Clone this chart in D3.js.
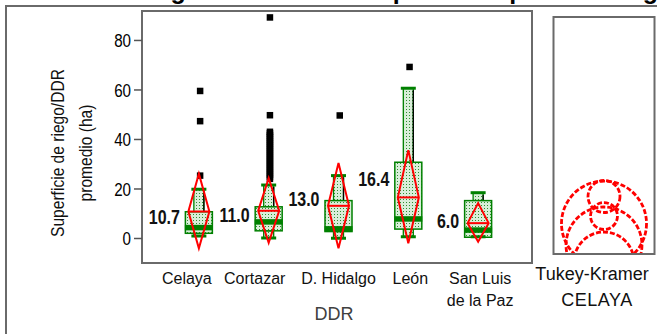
<!DOCTYPE html>
<html><head><meta charset="utf-8">
<script src="https://cdn.jsdelivr.net/npm/d3@7"></script>
<style>body{margin:0;background:#fff}svg{display:block}</style>
</head><body>
<svg id="c" width="657" height="334"></svg>
<script>
// ---------------- data ----------------
const categories = ["Celaya", "Cortazar", "D. Hidalgo", "León", "San Luis de la Paz"];
const means = [10.7, 11.0, 13.0, 16.4, 6.0];
const diamondTop = [26.0, 24.2, 30.3, 35.5, 14.1];
const diamondBottom = [-4.2, -1.9, -4.1, -2.1, -1.5];
const whiskerLow = [0.8, 0.0, -0.1, 0.5, 0.5];
const whiskerHigh = [19.7, 21.4, 25.2, 60.5, 18.3];
const q1 = [1.9, 2.9, 2.6, 3.6, 0.3];
const q3 = [10.6, 12.6, 15.1, 30.6, 15.1];
const medians = [4.2, 6.5, 3.7, 7.7, 3.2];
const outliers = [
  [25.3, 47.3, 59.5],
  [24.0, 24.8, 25.6, 26.4, 27.2, 28.0, 28.8, 29.6, 30.4, 31.2, 32.0, 32.8, 33.6, 34.4,
   35.2, 36.0, 36.8, 37.6, 38.4, 39.2, 40.0, 40.8, 41.6, 42.4, 43.0, 49.7, 89.2],
  [49.6],
  [69.2],
  []
];
const meanLabelAt = [8.5, 9.1, 15.6, 23.8, 6.9];
const yTicks = [0, 20, 40, 60, 80];
// comparison circles (centre and radius in the circle panel's own units)
const circleCenters = [16.4, 13.3, 12.1, 8.7, 6.0];
const circleRadii = [2.54, 2.14, 6.75, 6.03, 4.76];
const titleText = "Área media de riego en los distritos por DDR: prueba del grupo";
const yTitle = ["Superficie de riego/DDR", "promedio (ha)"];
const xTitle = "DDR";
const panelLabels = ["Tukey-Kramer", "CELAYA"];

// ---------------- layout ----------------
const SANS = "'Liberation Sans',Arial,sans-serif";
const NX = 0.82; // horizontal squeeze to imitate a narrow face
const FRAME = "#6a6a6a";
const GREEN = "#008000";
const labelNudge = [-12, -14, 0, 2, 2];

const svg = d3.select("#c");
const defs = svg.append("defs");
const pat = defs.append("pattern").attr("id", "dots").attr("width", 3).attr("height", 3)
  .attr("patternUnits", "userSpaceOnUse");
pat.append("rect").attr("width", 3).attr("height", 3).attr("fill", "#d9eed9");
pat.append("rect").attr("x", 1).attr("y", 1).attr("width", 1).attr("height", 1).attr("fill", "#2f8f2f");

function narrowText(parent, tx, ty, txt, size, anchor, weight) {
  return parent.append("text")
    .attr("transform", `translate(${tx},${ty}) scale(${NX},1)`)
    .attr("text-anchor", anchor).attr("font-family", SANS)
    .attr("font-weight", weight || "normal").attr("font-size", size)
    .attr("fill", "#111").text(txt);
}

// title (cut off at the top edge; only descenders show)
svg.append("text").attr("x", -38).attr("y", -1)
  .attr("font-family", SANS).attr("font-weight", "bold").attr("font-size", 25)
  .text(titleText);

// outer frame lines
svg.append("line").attr("x1", 5).attr("x2", 657).attr("y1", 6).attr("y2", 6)
  .attr("stroke", FRAME).attr("stroke-width", 2);
svg.append("line").attr("x1", 6).attr("x2", 6).attr("y1", 5).attr("y2", 334)
  .attr("stroke", FRAME).attr("stroke-width", 2);

// scales
const x = d3.scalePoint().domain(categories).range([144, 533]).padding(0.786);
const y = d3.scaleLinear().domain([-10.1, 91.7]).range([263, 11]);

// plot frame
svg.append("rect").attr("x", 142).attr("y", 11).attr("width", 390).attr("height", 252)
  .attr("fill", "none").attr("stroke", FRAME).attr("stroke-width", 2);

// y axis
const yAxis = svg.append("g").attr("transform", "translate(142,0)")
  .call(d3.axisLeft(y).tickValues(yTicks).tickSize(8).tickPadding(3).tickFormat(d3.format("d")));
yAxis.select(".domain").remove();
yAxis.selectAll(".tick line").attr("stroke", "#555").attr("stroke-width", 1.5);
yAxis.selectAll(".tick text").attr("font-family", SANS).attr("font-size", 18.5)
  .attr("fill", "#000").attr("dy", "0.36em")
  .attr("x", -11 / NX).attr("transform", `scale(${NX},1)`);

// y title
const yt = svg.append("text").attr("transform", `translate(70,153) rotate(-90) scale(${NX},1)`)
  .attr("text-anchor", "middle").attr("font-family", SANS).attr("font-size", 19).attr("fill", "#111");
yt.selectAll("tspan").data(yTitle).join("tspan")
  .attr("x", 0).attr("dy", (d, i) => i === 0 ? "-0.3em" : "1.45em").text(d => d);

// boxes
const g = svg.append("g");
categories.forEach((c, i) => {
  const cx = x(c);
  const wide = 27, narrow = 10, cap = 15;
  g.append("rect").attr("x", cx - narrow / 2).attr("y", y(whiskerHigh[i]))
    .attr("width", narrow).attr("height", y(q3[i]) - y(whiskerHigh[i]))
    .attr("fill", "url(#dots)").attr("stroke", GREEN).attr("stroke-width", 1.3);
  g.append("line").attr("x1", cx + narrow / 2).attr("x2", cx + narrow / 2)
    .attr("y1", y(whiskerHigh[i]) + 2).attr("y2", y(q3[i]))
    .attr("stroke", "#000").attr("stroke-width", 1.3);
  g.append("rect").attr("x", cx - narrow / 2).attr("y", y(q1[i]))
    .attr("width", narrow).attr("height", Math.max(0, y(whiskerLow[i]) - y(q1[i])))
    .attr("fill", "url(#dots)").attr("stroke", GREEN).attr("stroke-width", 1.3);
  g.append("rect").attr("x", cx - wide / 2).attr("y", y(q3[i]))
    .attr("width", wide).attr("height", y(q1[i]) - y(q3[i]))
    .attr("fill", "url(#dots)").attr("stroke", GREEN).attr("stroke-width", 1.5);
  [whiskerHigh[i], whiskerLow[i]].forEach(v => {
    g.append("line").attr("x1", cx - cap / 2).attr("x2", cx + cap / 2)
      .attr("y1", y(v)).attr("y2", y(v)).attr("stroke", GREEN).attr("stroke-width", 3);
  });
  g.append("line").attr("x1", cx - wide / 2 - 0.5).attr("x2", cx + wide / 2 + 0.5)
    .attr("y1", y(medians[i])).attr("y2", y(medians[i]))
    .attr("stroke", GREEN).attr("stroke-width", 5.5);
  g.selectAll(null).data(outliers[i]).join("rect")
    .attr("x", cx - 2).attr("y", d => y(d) - 3).attr("width", 6.5).attr("height", 6.5)
    .attr("fill", "#000");
  const hw = 10.5;
  const pts = [[cx, y(diamondTop[i])], [cx + hw, y(means[i])], [cx, y(diamondBottom[i])], [cx - hw, y(means[i])]];
  g.append("polygon").attr("points", pts.map(p => p.join(",")).join(" "))
    .attr("fill", "none").attr("stroke", "#ff0000").attr("stroke-width", 2);
  g.append("line").attr("x1", cx - hw).attr("x2", cx + hw)
    .attr("y1", y(means[i])).attr("y2", y(means[i]))
    .attr("stroke", "#ff0000").attr("stroke-width", 2);
  narrowText(g, cx - 19, y(meanLabelAt[i]) + 7, d3.format(".1f")(means[i]), 19.5, "end", "bold");
});

// x labels
categories.forEach((c, i) => {
  const lines = c === "San Luis de la Paz" ? ["San Luis", "de la Paz"] : [c];
  const t = svg.append("text").attr("y", 284)
    .attr("text-anchor", "middle").attr("font-family", SANS).attr("font-size", 16).attr("fill", "#111");
  t.selectAll("tspan").data(lines).join("tspan")
    .attr("x", x(c) + labelNudge[i]).attr("dy", (d, k) => k === 0 ? 0 : 21.5).text(d => d);
});
svg.append("text").attr("x", 334).attr("y", 320).attr("text-anchor", "middle")
  .attr("font-family", SANS).attr("font-size", 18).attr("fill", "#404040").text(xTitle);

// comparison-circle panel
const px0 = 553.5, py0 = 17, pw = 101, ph = 237;
defs.append("clipPath").attr("id", "pclip").append("rect")
  .attr("x", px0).attr("y", py0).attr("width", pw).attr("height", ph);
const cy = d3.scaleLinear().domain([6.0, 16.4]).range([262, 196.5]);
const pcx = px0 + pw / 2;
svg.append("g").attr("clip-path", "url(#pclip)").selectAll("circle")
  .data(circleCenters).join("circle")
  .attr("cx", pcx).attr("cy", d => cy(d))
  .attr("r", (d, i) => cy(d - circleRadii[i]) - cy(d))
  .attr("fill", "none").attr("stroke", "#ff0000").attr("stroke-width", 2.8)
  .attr("stroke-dasharray", "5 2");
svg.append("rect").attr("x", px0).attr("y", py0).attr("width", pw).attr("height", ph)
  .attr("fill", "none").attr("stroke", FRAME).attr("stroke-width", 2);
svg.append("text").attr("x", 592).attr("y", 280).attr("text-anchor", "middle")
  .attr("font-family", SANS).attr("font-size", 18).attr("fill", "#111").text(panelLabels[0]);
svg.append("text").attr("x", 597).attr("y", 306).attr("text-anchor", "middle")
  .attr("font-family", SANS).attr("font-size", 18).attr("letter-spacing", 0.5).attr("fill", "#111").text(panelLabels[1]);
</script>
</body></html>
